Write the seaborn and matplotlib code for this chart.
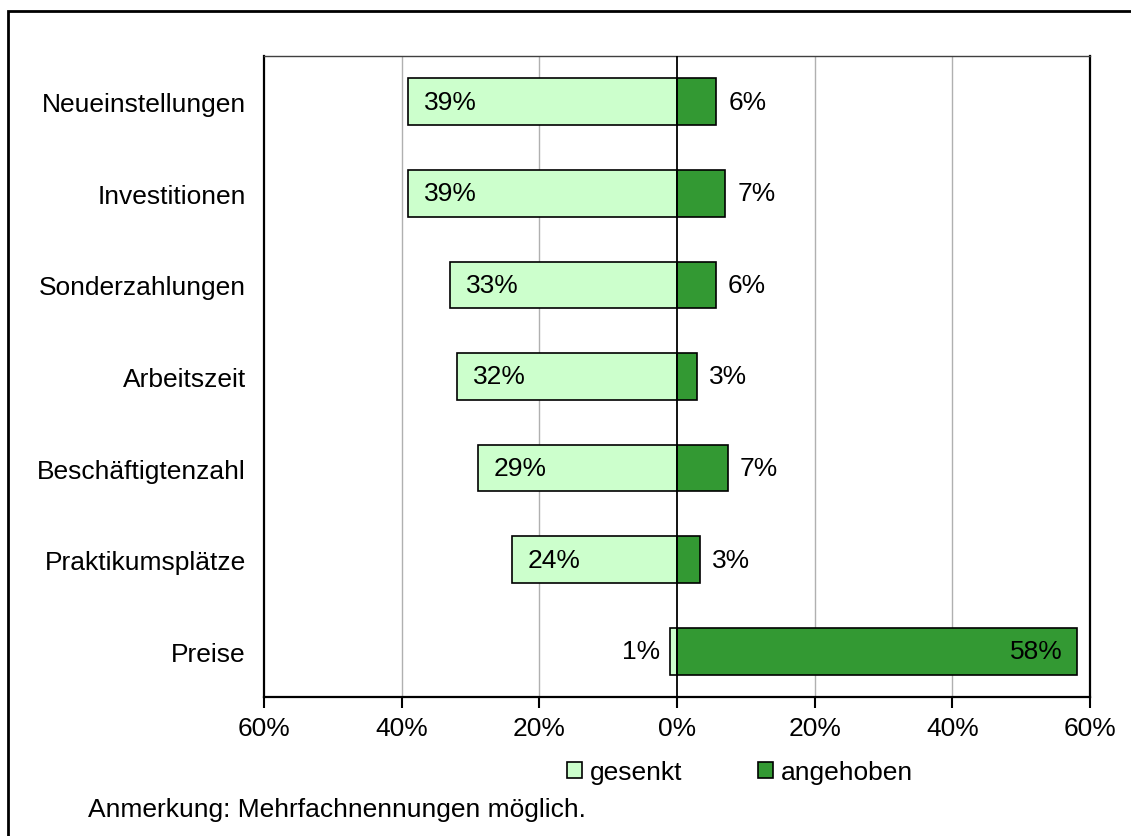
import matplotlib
matplotlib.use("Agg")
import matplotlib.pyplot as plt
from matplotlib.patches import Rectangle, Patch
from matplotlib.ticker import FuncFormatter
import seaborn as sns
import pandas as pd

categories = ["Neueinstellungen", "Investitionen", "Sonderzahlungen", "Arbeitszeit",
              "Beschäftigtenzahl", "Praktikumsplätze", "Preise"]
gesenkt = [39.1, 39.1, 33.0, 32.0, 28.9, 24.0, 1.0]
angehoben = [5.7, 7.0, 5.6, 2.9, 7.4, 3.3, 58.1]

light = "#CCFFCC"
dark = "#339933"

sns.set_style("white")
plt.rcParams["font.family"] = ["Liberation Sans", "DejaVu Sans"]
plt.rcParams["text.color"] = "black"
plt.rcParams["xtick.color"] = "black"
plt.rcParams["ytick.color"] = "black"
fs = 19

df = pd.DataFrame({"cat": categories,
                   "neg": [-v for v in gesenkt],
                   "pos": angehoben})

fig = plt.figure(figsize=(11.31, 8.37), dpi=100)
ax = fig.add_axes([264 / 1131, 1 - 698 / 837, 826 / 1131, 641 / 837])

sns.barplot(data=df, x="neg", y="cat", orient="h", color=light, edgecolor="black",
            linewidth=1.2, width=0.51, ax=ax, saturation=1)
sns.barplot(data=df, x="pos", y="cat", orient="h", color=dark, edgecolor="black",
            linewidth=1.2, width=0.51, ax=ax, saturation=1)

ax.set_xlim(-60, 60)
ax.set_ylim(6.5, -0.5)
ax.set_xticks([-60, -40, -20, 0, 20, 40, 60])
ax.xaxis.set_major_formatter(FuncFormatter(lambda v, p: f"{abs(v):.0f}%"))
ax.set_xlabel("")
ax.set_ylabel("")
ax.set_axisbelow(True)
for g in [-40, -20, 20, 40]:
    ax.axvline(g, color="#b0b0b0", lw=1, zorder=0)
ax.axvline(0, color="black", lw=1.3, zorder=5)

ax.tick_params(axis="x", direction="out", length=8, width=1.5, color="black",
               labelsize=fs, pad=6, bottom=True, labelcolor="black")
ax.tick_params(axis="y", length=0, labelsize=fs, pad=13, labelcolor="black")
for s in ["left", "bottom", "right"]:
    ax.spines[s].set_color("black")
    ax.spines[s].set_linewidth(1.6)
ax.spines["top"].set_color("#404040")
ax.spines["top"].set_linewidth(1)

px = 120 / 826  # data units per pixel
for i, (g, a) in enumerate(zip(gesenkt, angehoben)):
    if g > 5:
        ax.text(-g + 16 * px, i, f"{round(g)}%", ha="left", va="center", fontsize=fs, zorder=6)
    else:
        ax.text(-g - 10 * px, i, f"{round(g)}%", ha="right", va="center", fontsize=fs, zorder=6)
    if a > 20:
        ax.text(a - 14 * px, i, f"{round(a)}%", ha="right", va="center", fontsize=fs, zorder=6)
    else:
        ax.text(a + 12 * px, i, f"{round(a)}%", ha="left", va="center", fontsize=fs, zorder=6)

handles = [Patch(facecolor=light, edgecolor="black", lw=1.2),
           Patch(facecolor=dark, edgecolor="black", lw=1.2)]
fig.legend(handles, ["gesenkt", "angehoben"], loc="center",
           bbox_to_anchor=(740 / 1131, 1 - 773 / 837), ncol=2, frameon=False,
           fontsize=fs, handlelength=0.55, handleheight=0.55, handletextpad=0.3,
           columnspacing=2.9)

fig.text(88 / 1131, 1 - 810 / 837, "Anmerkung: Mehrfachnennungen möglich.",
         fontsize=fs, va="center", ha="left")

fig.patches.append(Rectangle((8 / 1131, -0.1), 1.2, (837 - 12) / 837 + 0.1,
                             transform=fig.transFigure, fill=False, lw=2,
                             edgecolor="black"))

fig.savefig("out.png", dpi=100)
